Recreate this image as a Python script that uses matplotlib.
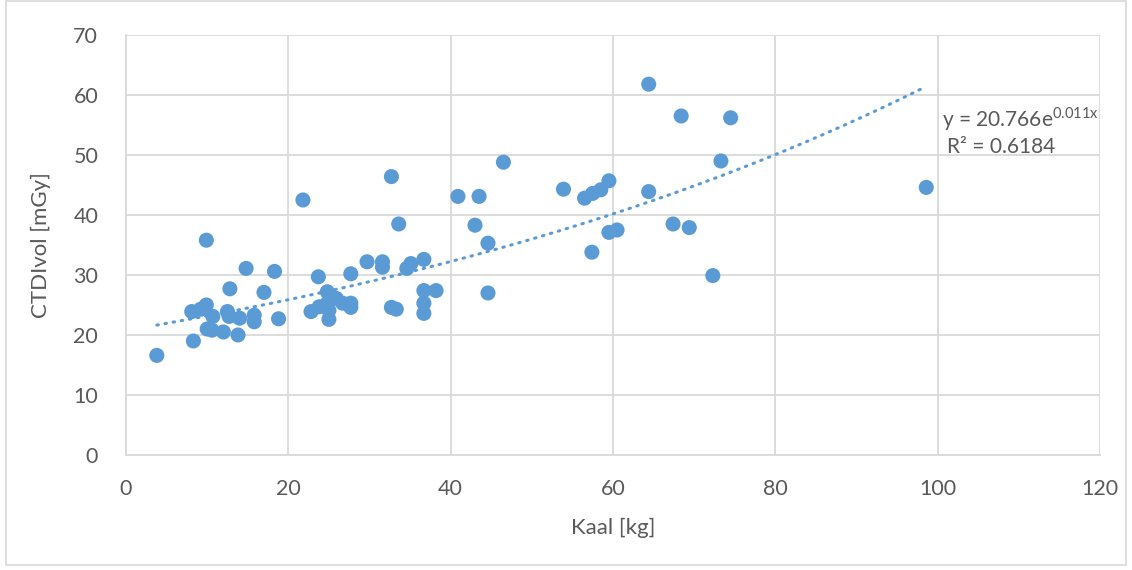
import numpy as np
import matplotlib
matplotlib.use("Agg")
import matplotlib.pyplot as plt
from matplotlib.patches import Rectangle

# weight [kg] vs CTDIvol [mGy]
kaal = [3.8, 8.3, 8.1, 9.2, 9.9, 9.9, 10.0, 10.6, 10.7, 12.0, 12.5, 12.7, 12.8,
        13.8, 14.0, 14.8, 15.8, 15.8, 17.0, 18.3, 18.8, 21.8, 22.8, 23.7, 23.8,
        24.8, 24.8, 25.0, 25.0, 25.9, 26.7, 27.7, 27.7, 27.7, 29.7, 31.6, 31.6,
        32.7, 32.7, 33.3, 33.6, 34.6, 35.1, 36.7, 36.7, 36.7, 36.7, 38.2, 40.9,
        43.0, 43.5, 44.6, 44.6, 46.5, 53.9, 56.5, 57.5, 58.5, 59.5, 59.5, 60.5,
        57.4, 64.4, 64.4, 67.4, 68.4, 69.4, 72.3, 73.3, 74.5, 98.6]
ctdi = [16.6, 19.0, 23.9, 24.3, 25.0, 35.8, 21.0, 20.8, 23.1, 20.5, 23.9, 23.1, 27.7,
        20.0, 22.8, 31.1, 23.3, 22.2, 27.1, 30.6, 22.7, 42.5, 23.9, 29.7, 24.7,
        27.2, 25.3, 22.6, 24.1, 26.1, 25.3, 25.3, 24.6, 30.2, 32.2, 32.2, 31.3,
        46.4, 24.6, 24.3, 38.5, 31.1, 31.9, 32.6, 27.4, 25.3, 23.6, 27.4, 43.1,
        38.3, 43.1, 35.3, 27.0, 48.8, 44.3, 42.8, 43.6, 44.2, 45.7, 37.1, 37.5,
        33.8, 61.8, 43.9, 38.5, 56.5, 37.9, 29.9, 49.0, 56.2, 44.6]

# exponential trendline as given in the chart
fit_a = 20.766
fit_b = 0.011

xticks = [0, 20, 40, 60, 80, 100, 120]
yticks = [0, 10, 20, 30, 40, 50, 60, 70]

blue = "#5B9BD5"
grey_txt = "#595959"
grid_col = "#D9D9D9"

plt.rcParams['font.family'] = ['Lato', 'DejaVu Sans']
plt.rcParams['mathtext.fontset'] = 'custom'
plt.rcParams['mathtext.rm'] = 'Lato'

fig = plt.figure(figsize=(11.32, 5.70), dpi=100)
ax = fig.add_axes([0.1113, 0.2018, 0.8604, 0.7368])

ax.scatter(kaal, ctdi, s=118, color=blue, edgecolors='none', zorder=3)

xs = np.linspace(min(kaal), max(kaal), 200)
ax.plot(xs, fit_a * np.exp(fit_b * xs), color=blue, lw=2.2,
        linestyle=(0, (0.5, 2.2)), dash_capstyle='round', zorder=2)

ax.set_xlim(0, 120)
ax.set_ylim(0, 70)
ax.set_xticks(xticks)
ax.set_yticks(yticks)
ax.grid(True, color=grid_col, lw=1.3)
ax.set_axisbelow(True)
for side in ['top', 'right']:
    ax.spines[side].set_visible(False)
for side in ['left', 'bottom']:
    ax.spines[side].set_color(grid_col)
    ax.spines[side].set_linewidth(1.3)
ax.tick_params(axis='y', length=0, colors=grey_txt, labelsize=15.5, pad=20)
ax.tick_params(axis='x', length=0, colors=grey_txt, labelsize=15.5, pad=17)

ax.set_xlabel('Kaal [kg]', fontsize=16, color=grey_txt, labelpad=14)
ax.set_ylabel('CTDIvol [mGy]', fontsize=16, color=grey_txt, labelpad=16)

ax.text(100.5, 56.0, r'y = 20.766e$^{\mathrm{0.011x}}$', fontsize=15, color=grey_txt,
        ha='left', va='center')
ax.text(114.5, 51.4, 'R² = 0.6184', fontsize=15, color=grey_txt,
        ha='right', va='center')

# chart area border like in Excel
fig.patches.append(Rectangle((0.005, 0.008), 0.99, 0.99, transform=fig.transFigure,
                             fill=False, edgecolor=grid_col, lw=1.2))

fig.savefig('out.png', dpi=100)
